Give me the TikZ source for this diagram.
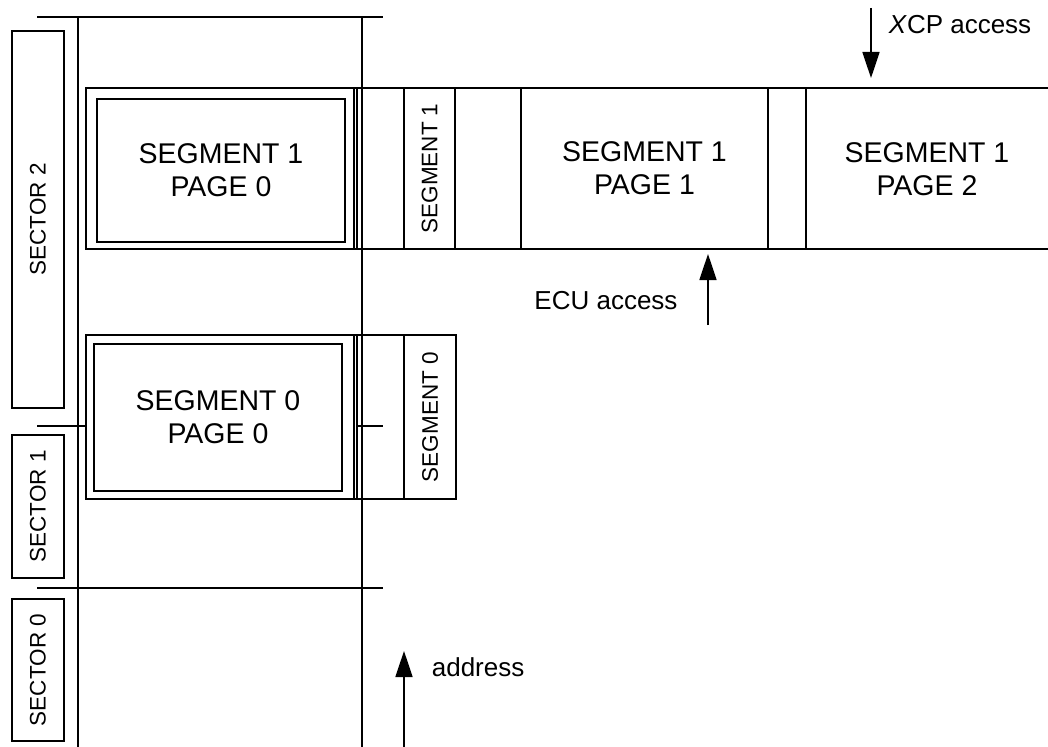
\documentclass[tikz,border=0pt]{standalone}
\usepackage{fontspec}
\setmainfont{Liberation Sans}
\usetikzlibrary{arrows.meta}
\begin{document}
\begin{tikzpicture}[x=1bp,y=-1bp,line width=1.7bp,
  box/.style={draw,rectangle,inner sep=0pt,align=center,
    font=\fontsize{28.5bp}{33bp}\selectfont},
  txt/.style={inner sep=0pt,align=center,
    font=\fontsize{28.5bp}{33bp}\selectfont},
  vbox/.style={draw,rectangle,inner sep=0pt,rotate=90,
    font=\fontsize{22.5bp}{26bp}\selectfont},
  lbl/.style={inner sep=0pt,font=\fontsize{26bp}{30bp}\selectfont},
  acc/.style={-{Triangle[width=17bp,length=26bp]}}]
\useasboundingbox (0,0) rectangle (1048,747);

% sectors
\node[vbox,minimum width=377bp,minimum height=52bp] (sec2) at (38,219.5) {SECTOR 2};
\node[vbox,minimum width=143bp,minimum height=52bp] (sec1) at (38,506.5) {SECTOR 1};
\node[vbox,minimum width=142bp,minimum height=52bp] (sec0) at (38,670) {SECTOR 0};

% address axis and sector boundaries
\draw (37,17) -- (383,17);
\draw (37,588) -- (383,588);
\draw (78,17) -- (78,747);
\draw (362,17) -- (362,747);

% segment 1
\node[draw,rectangle,inner sep=0pt,minimum width=268bp,minimum height=161bp] (s1o) at (220,168.5) {};
\node[box,minimum width=248bp,minimum height=143bp] (s1p0) at (221,170.5) {SEGMENT 1\\PAGE 0};
\draw (354,88) -- (1048,88);
\draw (354,249) -- (1048,249);
\draw (357,88) -- (357,249);
\draw (806,88) -- (806,249);
\node[vbox,minimum width=161bp,minimum height=51bp] (s1) at (429.5,168.5) {SEGMENT 1};
\node[box,minimum width=247bp,minimum height=161bp] (s1p1) at (644.5,168.5) {SEGMENT 1\\PAGE 1};
\node[txt] (s1p2) at (927,169) {SEGMENT 1\\PAGE 2};

% segment 0
\node[draw,rectangle,inner sep=0pt,minimum width=268bp,minimum height=164bp] (s0o) at (220,417) {};
\node[box,minimum width=248bp,minimum height=147bp] (s0p0) at (218,417.5) {SEGMENT 0\\PAGE 0};
\draw (354,335) -- (404,335);
\draw (354,499) -- (404,499);
\draw (357,335) -- (357,499);
\node[vbox,minimum width=164bp,minimum height=52bp] (s0) at (430,417) {SEGMENT 0};

% sector 1/2 boundary
\coordinate (bL) at (37,426);
\coordinate (bR) at (383,426);
\draw (bL) -- (bL -| s0o.west);
\draw (357,426) -- (bR);

% accesses
\coordinate (xcpA) at (871,8);
\coordinate (xcpB) at (871,78);
\draw[acc] (xcpA) -- (xcpB);
\node[lbl,anchor=west] (xcp) at (888,25) {\textit{X}CP access};

\coordinate (ecuA) at (708,325);
\coordinate (ecuB) at (708,254);
\draw[acc] (ecuA) -- (ecuB);
\node[lbl] (ecu) at (606,301) {ECU access};

\coordinate (adrA) at (404,747);
\coordinate (adrB) at (404,651);
\draw[acc] (adrA) -- (adrB);
\node[lbl,anchor=west] (adr) at (431,667) {address};
\end{tikzpicture}
\end{document}
